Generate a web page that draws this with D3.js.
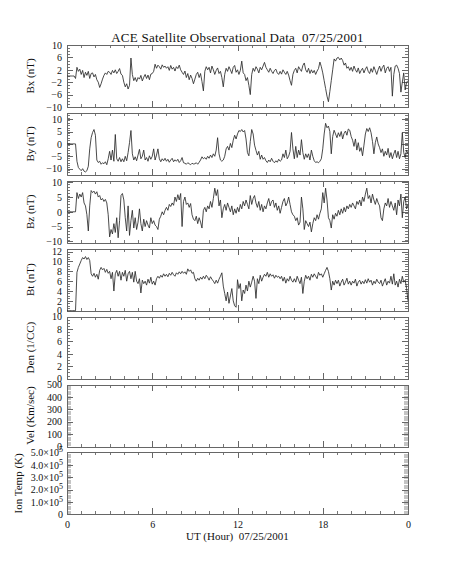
<!DOCTYPE html>
<html lang="en">
<head>
<meta charset="utf-8">
<title>ACE Satellite Observational Data</title>
<script src="https://d3js.org/d3.v7.min.js"></script>
<style>
body { margin: 0; background: #fff; }
svg text { font-family: "Liberation Serif", "DejaVu Serif", serif; fill: #111; }
.axis path, .axis line { stroke: #666; shape-rendering: crispEdges; }
.axis .minor line { stroke: #777; }
.axis.minor line { stroke: #777; }
.axis.dense line { stroke: #c4c4c4; }
.axis text { font-size: 10px; }
.trace { fill: none; stroke: #2a2a2a; stroke-width: 0.85; }
</style>
</head>
<body>
<script>

// time grid: one sample every 0.1 hour, starting at 0 UT
var tStart = 0, tStep = 0.1;

var xMajor = [0, 6, 12, 18, 24];
var xLabels = ["0", "6", "12", "18", "0"];

var bx = [
  0,0,0,0,0,0,-0.8,2.8,1.5,2.2,
  0.5,1.8,-0.5,1.2,0.2,1.5,-0.8,0.8,1.0,-0.3,
  0.5,-1.2,-2.0,-3.7,-2.5,-1.0,0.2,1.0,0.5,1.5,
  1.2,0.5,1.8,1.0,2.0,0.8,1.5,2.4,0.6,0.2,
  -2.0,-3.5,-2.5,-4.2,-3.0,5.8,0.5,-1.5,-0.5,-1.8,
  -0.5,-1.0,0.2,-1.6,-0.4,0.5,-0.8,0.3,-1.2,0.6,
  0.8,1.5,3.8,2.5,3.5,3.0,2.2,3.6,2.8,3.2,
  2.5,3.0,1.8,3.4,2.2,2.8,1.6,3.0,2.4,3.5,
  2.0,1.2,0.5,1.6,-0.5,0.8,-1.2,0.3,-0.8,-2.5,
  -1.0,0.5,1.2,-0.5,0.8,-1.8,-4.8,1.5,3.0,2.0,
  2.8,1.0,3.2,2.0,0.5,1.8,2.6,0.8,1.5,-0.5,
  -3.5,0.5,2.5,1.5,3.0,2.0,0.8,2.8,3.4,1.2,
  2.0,0.5,1.8,4.8,1.0,0.5,-1.5,-0.5,-3.0,-6.0,
  0.5,2.5,1.5,3.0,2.2,1.0,2.8,2.0,3.2,4.4,
  2.8,2.0,1.2,2.5,1.5,0.8,1.8,2.2,1.0,0.5,
  1.5,0.6,2.0,1.2,0.5,1.5,0.3,-1.5,-3.0,0.5,
  1.8,2.5,1.0,3.0,2.2,1.5,3.4,4.2,2.0,1.2,
  2.5,0.8,2.0,1.0,1.8,0.5,1.6,2.4,4.5,3.0,
  1.0,-1.5,-4.0,-6.5,-8.3,-5.0,-1.5,2.0,5.5,4.8,
  5.8,6.0,5.2,5.8,5.0,3.5,4.2,2.5,3.0,1.8,
  2.8,1.5,3.2,2.0,1.2,2.6,0.8,1.8,2.5,1.0,
  2.2,3.0,1.5,0.8,2.4,1.2,3.0,1.8,0.5,2.0,
  3.2,1.5,2.8,3.5,1.0,2.5,3.0,1.5,2.8,-6.5,
  0.5,3.2,3.5,2.5,0.8,-5.2,-2.0,1.0,-4.5,-2.0,
  -1.5
];

var by = [
  0,0,0,0,0,0,0,-7.0,-9.5,-10.2,
  -10.8,-10.0,-11.0,-11.3,-10.8,-9.0,-2.0,2.5,4.6,5.8,
  3.5,-6.5,-7.5,-7.0,-8.2,-7.6,-8.0,-7.2,-8.4,-6.0,
  -3.0,-6.5,-2.5,-7.0,3.8,-6.0,-7.0,-5.5,-7.2,-6.0,
  -7.2,-5.0,-6.8,-3.5,0.5,5.4,-4.0,-6.5,-5.2,-6.8,
  -4.5,-2.2,-6.0,-5.0,-2.5,-6.5,-5.5,-7.0,-4.8,-6.2,
  -5.0,-2.0,-6.5,-4.5,-2.0,-6.0,-7.2,-6.0,-6.8,-5.8,
  -7.0,-6.2,-7.4,-6.5,-5.8,-7.2,-6.4,-7.0,-6.2,-7.5,
  -6.8,-5.5,-7.6,-7.8,-8.2,-7.6,-8.0,-8.4,-7.8,-8.1,
  -8.0,-7.6,-8.2,-7.4,-6.5,-5.2,-6.0,-5.5,-6.2,-5.0,
  -5.8,-4.5,-5.5,-4.0,-5.0,-2.5,2.5,-4.0,-6.5,-7.0,
  -6.5,-5.0,-2.0,-1.0,-2.5,0.2,-1.5,1.5,3.5,2.0,
  4.0,5.4,5.0,5.8,4.8,5.4,2.0,-3.5,-4.8,1.0,
  5.8,4.0,-0.5,-2.6,-4.5,-3.0,-6.2,-4.5,-6.2,-5.5,
  -6.8,-7.5,-6.5,-7.2,-5.8,-7.0,-7.6,-6.8,-7.4,-6.2,
  -7.0,-6.5,-4.0,-5.5,-2.5,-6.0,-5.0,-3.0,4.6,-2.0,
  -6.0,-1.0,-5.5,-2.5,-4.5,1.7,-3.5,-6.2,-4.0,-5.5,
  -4.0,-6.5,-2.5,-5.0,-6.8,-7.5,-7.2,-7.6,-7.0,-6.0,
  -2.0,4.0,8.3,6.5,7.2,5.0,-4.0,3.0,5.5,4.0,
  2.5,4.5,3.0,5.0,2.0,4.2,5.2,3.5,6.0,5.5,
  3.0,1.5,-1.0,2.0,-2.5,0.5,-3.0,-1.5,-4.8,-0.5,
  4.0,6.2,5.0,6.5,4.5,1.0,-4.0,0.5,2.8,0.0,
  -1.5,-3.5,-2.0,-5.0,-3.0,-4.5,-1.8,-5.5,-3.5,-6.0,
  -4.0,-2.5,-5.5,-3.0,-6.0,-4.0,4.5,-3.5,-5.5,-2.5,
  -4.0
];

var bz = [
  0,0,0,0,0,0,0,6.5,4.5,6.0,
  5.0,6.5,3.0,2.0,-1.0,-6.5,2.0,7.2,6.5,7.0,
  6.0,6.8,5.0,5.5,4.0,4.5,3.5,4.2,3.0,-1.0,
  -8.5,-6.0,-7.5,-4.0,-7.0,-2.0,-8.8,-3.0,5.5,6.2,
  4.0,-2.0,-6.5,2.0,-8.0,-3.0,0.5,-5.5,-2.0,-6.0,
  -3.5,1.0,-4.0,-6.5,-2.5,-5.0,-3.0,-4.5,-5.5,-2.0,
  -4.0,-3.0,-4.5,-5.0,-6.0,-2.5,-1.5,0.0,-1.0,0.5,
  1.5,0.5,2.5,1.8,3.0,2.2,5.0,3.5,5.8,4.0,
  6.2,-5.0,3.5,5.0,2.5,3.0,1.5,2.8,-1.0,-2.5,
  -3.0,-1.5,-4.0,-2.0,-3.5,-5.5,0.5,1.5,0.0,2.0,
  1.0,3.5,1.5,4.5,8.0,5.5,7.5,2.0,4.0,-2.0,
  1.0,2.5,0.5,3.0,1.5,0.0,2.0,-1.0,1.0,-0.5,
  1.5,0.0,2.5,1.0,3.5,2.0,4.0,2.5,1.0,5.5,
  2.5,4.5,5.5,3.0,1.5,3.5,0.5,2.5,0.0,2.0,
  1.0,3.0,4.5,2.0,3.5,4.0,1.5,3.0,0.5,2.0,
  -0.5,1.5,3.5,4.5,2.0,3.0,5.0,2.5,0.0,-1.0,
  -1.5,-3.0,-2.0,-4.5,-3.5,5.0,1.0,-6.0,-3.0,-4.0,
  -5.0,-3.5,-6.8,-4.0,-2.0,-3.0,-1.0,-2.5,-0.5,1.0,
  6.5,3.0,8.0,4.0,-2.0,-3.0,-5.5,-1.0,-2.5,-0.5,
  -1.5,0.5,-1.0,1.0,-0.5,1.5,0.0,2.0,1.0,2.5,
  1.5,3.0,2.0,1.0,3.5,2.5,4.0,2.0,5.0,3.5,
  6.0,8.0,4.5,5.5,3.0,6.0,4.0,2.5,4.5,3.0,
  2.0,-2.0,-3.0,1.0,3.0,2.0,4.5,1.5,3.5,2.0,
  0.5,3.0,-1.0,4.0,2.0,6.0,-2.0,3.5,5.0,1.0,
  2.5
];

var bt = [
  0,0,0,0,0,0,0,7.8,8.8,9.5,
  10.2,10.8,10.5,11.0,10.4,10.8,10.2,7.5,7.0,7.6,
  6.8,7.4,6.4,8.2,8.8,8.3,8.6,7.8,8.4,7.6,
  8.0,6.5,7.8,4.0,7.5,8.2,7.0,8.0,6.2,7.8,
  7.0,8.2,6.0,7.5,8.0,6.5,7.8,5.8,8.0,6.0,
  5.5,6.5,3.6,6.2,5.5,6.0,5.2,6.4,5.6,6.8,
  5.4,6.0,5.2,6.5,7.0,6.6,7.2,6.8,7.5,7.0,
  7.4,6.9,7.6,7.2,7.8,7.3,7.0,7.7,7.4,7.9,
  7.5,8.0,7.6,7.9,7.4,8.5,8.0,8.3,7.6,7.8,
  6.5,6.0,6.6,6.2,6.8,6.4,7.0,6.5,7.2,6.8,
  6.2,6.9,6.4,6.0,5.5,6.2,5.6,6.4,7.0,7.7,
  5.0,3.5,2.0,3.8,1.5,3.0,4.5,2.0,1.0,0.7,
  6.3,4.5,5.5,2.0,4.2,3.5,5.2,4.0,6.0,4.8,
  5.8,7.0,6.0,2.5,6.5,5.5,7.2,6.0,6.8,7.4,
  7.0,7.8,6.8,7.5,7.0,7.3,6.6,7.2,6.8,7.0,
  6.5,7.0,6.0,6.8,5.6,6.5,6.0,7.0,6.2,5.8,
  6.5,5.8,7.0,6.2,5.5,6.8,3.5,6.0,7.2,6.5,
  7.0,6.2,7.4,6.8,7.5,7.0,6.5,7.8,7.2,7.5,
  6.8,7.5,8.2,8.8,8.0,6.5,4.2,6.0,5.2,6.2,
  5.5,6.2,5.0,5.8,6.4,5.2,5.8,6.6,5.4,6.0,
  5.2,6.0,5.6,6.4,5.0,5.8,6.2,5.4,6.0,5.5,
  6.3,5.6,6.5,5.8,6.2,5.2,6.0,5.5,6.4,5.8,
  5.5,6.2,5.0,5.8,6.5,5.2,6.0,5.6,7.0,5.4,
  7.5,5.2,6.0,4.8,6.4,5.5,7.0,5.8,6.2,4.5,
  2.0
];

// plasma data missing for this day
var den = [];
var vel = [];
var temp = [];

var panels = [
  {label: "Bx (nT)", data: bx, domain: [-10, 10], major: [-10, -6, -2, 2, 6, 10], minor: 1},
  {label: "By (nT)", data: by, domain: [-12.5, 12.5], major: [-10, -5, 0, 5, 10], minor: 1},
  {label: "Bz (nT)", data: bz, domain: [-10.5, 10.5], major: [-10, -5, 0, 5, 10], minor: 1},
  {label: "Bt (nT)", data: bt, domain: [0, 12.6], major: [0, 2, 4, 6, 8, 10, 12], minor: 0.5},
  {label: "Den (1/CC)", data: den, domain: [0, 10], major: [0, 2, 4, 6, 8, 10], minor: 0.5},
  {label: "Vel (Km/sec)", data: vel, domain: [0, 500], major: [0, 100, 200, 300, 400, 500], minor: 10, dense: true},
  {label: "Ion Temp (K)", data: temp, domain: [0, 5e5], major: [0, 1e5, 2e5, 3e5, 4e5, 5e5], minor: 1e4, dense: true, sci: true, labelX: 22}
];

var left = 67, plotW = 341, firstTop = 45, panelH = 62, panelStep = 67.9;

var svg = d3.select("body").append("svg")
  .attr("width", 454)
  .attr("height", 567);

svg.append("text")
  .attr("x", left + plotW / 2)
  .attr("y", 42)
  .attr("text-anchor", "middle")
  .style("font-size", "13px")
  .style("letter-spacing", "0.25px")
  .style("white-space", "pre")
  .text("ACE Satellite Observational Data  07/25/2001");

var x = d3.scaleLinear().domain([0, 24]).range([0, plotW]);
var hourTicks = d3.range(0, 25, 1);

panels.forEach(function(p, i) {
  var top = firstTop + i * panelStep;
  var g = svg.append("g").attr("transform", "translate(" + left + "," + top + ")");
  var y = d3.scaleLinear().domain(p.domain).range([panelH, 0]);
  var minors = d3.range(p.domain[0], p.domain[1] + 1e-9, p.minor);
  var minorClass = p.dense ? "axis dense" : "axis minor";

  // minor ticks, left and right
  g.append("g").attr("class", minorClass)
    .call(d3.axisLeft(y).tickValues(minors).tickSizeInner(p.dense ? -4 : -3).tickSizeOuter(0).tickFormat(""));
  g.append("g").attr("class", minorClass)
    .attr("transform", "translate(" + plotW + ",0)")
    .call(d3.axisRight(y).tickValues(minors).tickSizeInner(p.dense ? -4 : -3).tickSizeOuter(0).tickFormat(""));

  // major ticks with labels
  var yAxis = g.append("g").attr("class", "axis")
    .call(d3.axisLeft(y).tickValues(p.major).tickSizeInner(-6).tickSizeOuter(0).tickPadding(p.sci ? 4 : 5)
      .tickFormat(p.sci ? function() { return ""; } : d3.format("d")));
  g.append("g").attr("class", "axis")
    .attr("transform", "translate(" + plotW + ",0)")
    .call(d3.axisRight(y).tickValues(p.major).tickSizeInner(-6).tickSizeOuter(0).tickFormat(""));

  if (p.sci) {
    yAxis.selectAll(".tick text").each(function(d) {
      var t = d3.select(this);
      if (d === 0) { t.text("0"); return; }
      t.text((d / 1e5).toFixed(1) + "\u00d710");
      t.append("tspan").attr("dy", "-0.5em").style("font-size", "8px").text("5");
    });
  }

  // x ticks, top and bottom
  [["axisTop", 0], ["axisBottom", panelH]].forEach(function(a) {
    g.append("g").attr("class", "axis minor")
      .attr("transform", "translate(0," + a[1] + ")")
      .call(d3[a[0]](x).tickValues(hourTicks).tickSizeInner(-3).tickSizeOuter(0).tickFormat(""));
    var ax = d3[a[0]](x).tickValues(xMajor).tickSizeInner(-6).tickSizeOuter(0).tickPadding(7);
    var showLabels = a[0] === "axisBottom" && i === panels.length - 1;
    ax.tickFormat(showLabels ? function(d, k) { return xLabels[k]; } : "");
    g.append("g").attr("class", "axis")
      .attr("transform", "translate(0," + a[1] + ")")
      .call(ax);
  });

  // y label
  svg.append("text")
    .attr("transform", "translate(" + (p.labelX || 34) + "," + (top + panelH / 2) + ") rotate(-90)")
    .attr("text-anchor", "middle")
    .style("font-size", "11px")
    .text(p.label);

  if (p.data.length) {
    var line = d3.line()
      .x(function(d, k) { return x(tStart + k * tStep); })
      .y(function(d) { return y(d); });
    g.append("path")
      .datum(p.data)
      .attr("class", "trace")
      .attr("d", line);
  }
});

svg.append("text")
  .attr("x", left + plotW / 2)
  .attr("y", 540)
  .attr("text-anchor", "middle")
  .style("font-size", "11px")
  .style("white-space", "pre")
  .text("UT (Hour)  07/25/2001");

</script>
</body>
</html>
